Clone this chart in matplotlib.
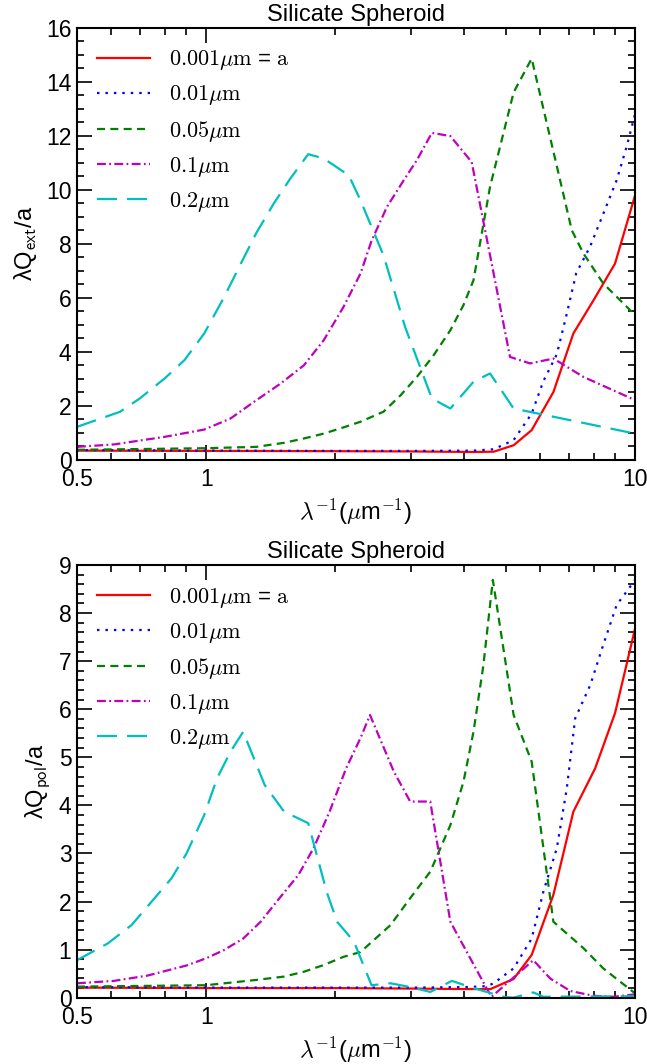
import numpy as np
import matplotlib.pyplot as plt
from matplotlib.ticker import FixedLocator, FixedFormatter, MultipleLocator

plt.rcParams['font.family'] = ['Liberation Sans', 'DejaVu Sans']
plt.rcParams['mathtext.fontset'] = 'cm'

# --- extinction, lambda*Q_ext/a ---
ext_x_001 = [0.5, 1.0, 2.0, 3.0, 4.2, 4.68, 5.21, 5.74, 6.45, 7.18, 8.0, 8.98, 10.0]
ext_y_001 = [0.33, 0.32, 0.31, 0.30, 0.28, 0.29, 0.53, 1.09, 2.5, 4.67, 5.9, 7.26, 9.79]

ext_x_01 = [0.5, 1.0, 2.0, 3.0, 4.2, 4.68, 5.21, 5.74, 6.11, 6.57, 6.93, 7.29, 7.86, 8.43, 9.06, 9.56, 10.0]
ext_y_01 = [0.35, 0.33, 0.32, 0.32, 0.33, 0.38, 0.72, 1.7, 2.9, 3.9, 5.4, 6.9, 7.9, 9.1, 10.35, 11.6, 12.8]

ext_x_05 = [0.5, 1.0, 1.31, 1.52, 1.69, 1.88, 2.09, 2.29, 2.59, 2.84, 3.10, 3.39, 3.71, 3.98,
            4.20, 4.59, 5.21, 5.74, 7.12, 7.58, 8.43, 10.0]
ext_y_05 = [0.36, 0.42, 0.47, 0.62, 0.78, 0.96, 1.19, 1.40, 1.77, 2.38, 3.06, 3.86, 4.79, 5.72,
            6.64, 10.1, 13.6, 14.85, 8.49, 7.63, 6.52, 5.35]

ext_x_1 = [0.5, 0.61, 0.80, 0.99, 1.14, 1.31, 1.49, 1.69, 1.88, 2.09, 2.29, 2.43, 2.64, 2.89,
           3.10, 3.36, 3.71, 4.16, 5.11, 5.69, 6.45, 7.58, 10.0]
ext_y_1 = [0.47, 0.56, 0.84, 1.11, 1.52, 2.2, 2.81, 3.49, 4.42, 5.65, 6.89, 8.1, 9.36, 10.35,
           11.09, 12.1, 11.98, 11.02, 3.8, 3.56, 3.74, 3.06, 2.2]

ext_x_2 = [0.5, 0.63, 0.70, 0.80, 0.89, 0.99, 1.10, 1.20, 1.31, 1.44, 1.57, 1.73, 1.88, 2.15,
           2.29, 2.59, 2.91, 3.36, 3.71, 4.20, 4.59, 5.21, 10.0]
ext_y_2 = [1.21, 1.77, 2.26, 3.0, 3.68, 4.67, 6.0, 7.2, 8.4, 9.5, 10.4, 11.31, 11.15, 10.53,
           9.6, 7.57, 4.91, 2.26, 1.89, 2.88, 3.19, 1.89, 0.96]

# --- polarization, lambda*Q_pol/a ---
pol_x_001 = [0.5, 1.0, 2.0, 3.0, 4.0, 4.6, 5.21, 5.74, 6.45, 7.18, 8.07, 8.98, 10.0]
pol_y_001 = [0.21, 0.20, 0.20, 0.19, 0.18, 0.18, 0.39, 0.89, 2.14, 3.87, 4.77, 5.92, 7.68]

pol_x_01 = [0.5, 1.0, 2.0, 3.0, 4.0, 4.51, 4.68, 5.21, 5.74, 6.11, 6.57, 6.93, 7.25, 7.86,
            8.43, 9.06, 9.56, 10.0]
pol_y_01 = [0.22, 0.21, 0.21, 0.21, 0.22, 0.24, 0.30, 0.61, 1.23, 2.2, 3.11, 4.35, 5.81, 6.5,
            7.34, 8.17, 8.45, 8.69]

pol_x_05 = [0.5, 1.0, 1.31, 1.52, 1.69, 1.88, 2.09, 2.29, 2.69, 2.99, 3.33, 3.71, 3.98, 4.20,
            4.43, 4.66, 5.21, 5.74, 6.45, 7.58, 8.43, 10.0]
pol_y_05 = [0.23, 0.26, 0.37, 0.44, 0.54, 0.68, 0.85, 0.95, 1.51, 2.07, 2.62, 3.59, 4.49, 5.53,
            6.92, 8.69, 5.88, 4.91, 1.58, 1.03, 0.61, 0.09]

pol_x_1 = [0.5, 0.61, 0.73, 0.90, 1.0, 1.10, 1.22, 1.34, 1.47, 1.64, 1.78, 1.94, 2.12, 2.29,
           2.41, 2.74, 2.99, 3.33, 3.71, 4.51, 4.63, 5.79, 6.34, 7.06, 8.0, 8.9, 10.0]
pol_y_1 = [0.30, 0.35, 0.46, 0.67, 0.82, 0.99, 1.23, 1.58, 2.03, 2.55, 3.11, 3.87, 4.77, 5.4,
           5.88, 4.70, 4.08, 4.08, 1.58, 0.19, 0.02, 0.78, 0.40, 0.14, 0.04, 0.02, 0.07]

pol_x_2 = [0.5, 0.59, 0.67, 0.74, 0.83, 0.90, 0.99, 1.06, 1.14, 1.22, 1.37, 1.52, 1.73, 1.91,
           2.02, 2.21, 2.43, 2.69, 3.0, 3.33, 3.74, 4.2, 4.51, 4.93, 5.2, 5.79, 6.11, 10.0]
pol_y_2 = [0.78, 1.13, 1.51, 1.96, 2.48, 3.0, 3.8, 4.56, 5.12, 5.53, 4.42, 3.87, 3.63, 2.2,
           1.58, 1.17, 0.26, 0.30, 0.22, 0.12, 0.35, 0.2, 0.12, 0.02, 0.0, 0.11, 0.02, 0.03]

labels = [r'$0.001\mu\mathrm{m}$ = $\mathrm{a}$', r'$0.01\mu\mathrm{m}$', r'$0.05\mu\mathrm{m}$',
          r'$0.1\mu\mathrm{m}$', r'$0.2\mu\mathrm{m}$']
colors = ['r', 'b', 'g', 'm', 'c']
# on/off lengths in units of the line width
dashes = [None, (1.1, 2.7), (3.6, 2.4), (4.0, 1.5, 0.8, 1.5), (9.0, 4.5)]

xticks = [0.5, 1, 10]
xticklabels = ['0.5', '1', '10']
xminor = [0.6, 0.7, 0.8, 0.9, 2, 3, 4, 5, 6, 7, 8, 9]


def draw_panel(ax, series, ylim, ymajor, yminor, ylabel):
    for (x, y), lab, col, ds in zip(series, labels, colors, dashes):
        line, = ax.plot(x, y, color=col, lw=1.6, label=lab)
        if ds is not None:
            line.set_dashes(ds)
    ax.set_xscale('log')
    ax.set_xlim(0.5, 10)
    ax.set_ylim(*ylim)
    ax.xaxis.set_major_locator(FixedLocator(xticks))
    ax.xaxis.set_major_formatter(FixedFormatter(xticklabels))
    ax.xaxis.set_minor_locator(FixedLocator(xminor))
    ax.xaxis.set_minor_formatter(FixedFormatter([''] * len(xminor)))
    ax.yaxis.set_major_locator(MultipleLocator(ymajor))
    ax.yaxis.set_minor_locator(MultipleLocator(yminor))
    ax.tick_params(which='both', direction='in', top=True, right=True, width=1.2, labelsize=16.5)
    ax.tick_params(which='major', length=10.5)
    ax.tick_params(which='minor', length=5.2)
    ax.tick_params(axis='x', pad=6)
    ax.tick_params(axis='y', pad=4)
    for sp in ax.spines.values():
        sp.set_linewidth(1.5)
    ax.set_title('Silicate Spheroid', fontsize=17, pad=5)
    ax.set_xlabel(r'$\lambda^{-1}$($\mu$m$^{-1}$)', fontsize=17)
    ax.set_ylabel(ylabel, fontsize=17, labelpad=5)
    ax.legend(loc='upper left', bbox_to_anchor=(0.035, 0.952), frameon=False, fontsize=16,
              handlelength=2.4, handletextpad=0.85, labelspacing=0.5, borderpad=0,
              borderaxespad=0)


fig = plt.figure(figsize=(6.47, 10.64), dpi=100)
ax1 = fig.add_axes([0.119, 0.5681, 0.8626, 0.406])
ax2 = fig.add_axes([0.119, 0.0623, 0.8626, 0.4067])

draw_panel(ax1, [(ext_x_001, ext_y_001), (ext_x_01, ext_y_01), (ext_x_05, ext_y_05),
                 (ext_x_1, ext_y_1), (ext_x_2, ext_y_2)],
           (0, 16), 2, 0.5, r'λQ$_\mathsf{ext}$/a')
draw_panel(ax2, [(pol_x_001, pol_y_001), (pol_x_01, pol_y_01), (pol_x_05, pol_y_05),
                 (pol_x_1, pol_y_1), (pol_x_2, pol_y_2)],
           (0, 9), 1, 0.2, r'λQ$_\mathsf{pol}$/a')

fig.savefig('out.png', dpi=100)
